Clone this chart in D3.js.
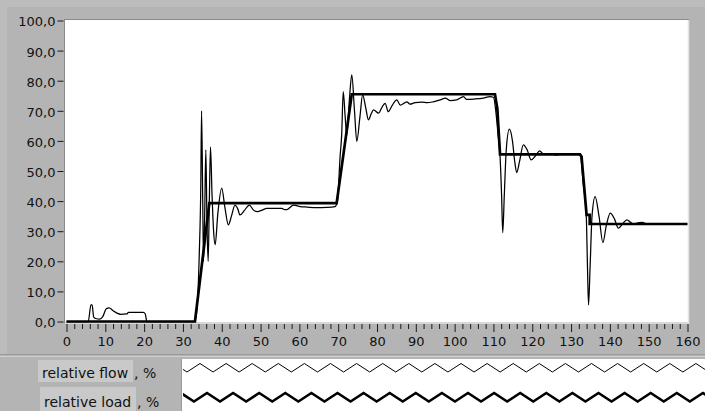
<!DOCTYPE html>
<html>
<head>
<meta charset="utf-8">
<script src="https://cdn.jsdelivr.net/npm/d3@7"></script>
<style>
  html, body { margin: 0; padding: 0; background: #b4b4b4; }
  svg { display: block; }
  text { font-family: "DejaVu Sans", sans-serif; }
</style>
</head>
<body>
<svg id="chart" width="705" height="411"></svg>
<script>
// Time axis (s) and values (%) for the two recorded signals
const flowTime = [0, 5.6, 6.3, 6.6, 7.0, 7.5, 8.6, 9.3, 10.3, 11.0, 12.0, 13.0, 14.0, 15.5, 16.0, 19.8, 20.3, 20.7,
  33.0, 33.6, 34.2, 34.6, 34.8, 35.1, 35.3, 35.6, 35.9, 36.2, 36.5, 36.8, 37.1, 37.5, 37.9, 38.3, 39.0, 40.0, 40.8,
  41.7, 42.5, 43.4, 44.1, 44.7, 45.9, 47.1, 48.2, 49.2, 50.4, 51.6, 53.5, 55.5, 56.2, 56.8, 58.5, 60.2, 62.0, 64.5,
  67.0, 69.2, 69.8, 70.5, 70.9, 71.3, 71.8, 72.2, 72.9, 73.5, 74.2, 74.8, 75.6, 76.3, 77.1, 77.8, 78.5, 79.1, 80.4,
  81.2, 82.1, 82.9, 84.0, 85.1, 86.0, 87.7, 88.5, 89.8, 91.5, 93.0, 94.5, 96.3, 97.6, 98.8, 100.5, 102.3, 103.1,
  105.0, 107.4, 109.1, 110.0, 110.6, 111.2, 111.7, 112.1, 112.4, 112.8, 113.3, 114.1, 114.9, 115.5, 116.0, 116.7,
  117.7, 118.7, 119.7, 120.8, 121.9, 123.0, 124.6, 126.0, 127.5, 132.3, 133.2, 133.9, 134.2, 134.5, 134.9, 135.4,
  136.2, 137.2, 138.2, 139.1, 140.1, 141.2, 142.2, 143.3, 144.4, 145.3, 146.1, 147.2, 148.2, 149.1];
const flowValue = [0, 0, 5.5, 5.5, 1.5, 1.0, 0.8, 1.5, 4.3, 4.5, 3.6, 2.8, 2.4, 2.5, 3.0, 3.0, 2.5, 0,
  0, 4, 22, 45, 70, 40, 20, 35, 57, 32, 20, 40, 58, 42, 30, 25.5, 36, 44.3, 38,
  32.1, 35, 38.7, 37.5, 35.4, 37, 38.7, 37, 36.5, 37, 37.6, 37.6, 37.6, 37.2, 37.2, 38.7, 38.2, 38.0, 37.8,
  37.9, 38.2, 40, 55, 62, 76.4, 68, 62, 74, 81.9, 70, 59.8, 68, 75.3, 71, 67.0, 69, 70.3, 69.2,
  71, 72.5, 69.7, 72, 73.6, 71.9, 73.0, 72.2, 72.7, 72.9, 72.7, 73.0, 73.6, 74.2, 73.4, 73.6, 74.7, 73.8,
  73.9, 74.2, 74.7, 74.5, 70, 62, 55, 42, 29.5, 42, 57, 63.9, 60, 53, 49.5, 53,
  58.7, 57, 53.7, 55, 56.7, 55.5, 55.8, 55.3, 55.6, 55.6, 45, 36.0, 20, 5.5, 18, 35,
  41.5, 35, 26.2, 32, 36.0, 34, 31.0, 32.5, 33.8, 33, 32.3, 32.8, 32.9, 32.6];

const loadTime  = [0, 33.1, 36.8, 69.6, 73.5, 110.4, 111.0, 111.7, 132.3, 132.7, 134.0, 134.8, 134.8, 160];
const loadValue = [0, 0, 39.3, 39.3, 75.5, 75.5, 70.8, 55.5, 55.5, 54.8, 35.4, 35.4, 32.4, 32.4];

const seriesNames = ["relative flow", "relative load"];
const xTicksMajor = d3.range(0, 161, 10);
const xTicksMinor = d3.range(0, 161, 2).filter(v => v % 10 !== 0);
const yTicks = d3.range(0, 101, 10);

const svg = d3.select("#chart");
const W = 705, H = 411;
const plot = { left: 65, right: 688, top: 20, bottom: 322 };

const x = d3.scaleLinear().domain([0, 160]).range([66.5, 687.5]);
const y = d3.scaleLinear().domain([0, 100]).range([321.5, 20.5]);

const fmt = d3.formatLocale({ decimal: ",", thousands: ".", grouping: [3], currency: ["", ""] }).format(".1f");

// panel background with lighter outer rim
svg.append("rect").attr("width", W).attr("height", H).attr("fill", "#b4b4b4");
svg.append("rect").attr("x", 0).attr("y", 0).attr("width", W).attr("height", 7).attr("fill", "#bcbcbc");
svg.append("rect").attr("x", 0).attr("y", 0).attr("width", 7).attr("height", 355).attr("fill", "#bcbcbc");

// plotting area
svg.append("rect")
  .attr("x", plot.left).attr("y", plot.top)
  .attr("width", plot.right - plot.left).attr("height", plot.bottom - plot.top)
  .attr("fill", "#ffffff");
// sunken frame: dark top/left, light bottom/right
svg.append("line").attr("x1", plot.left - 1).attr("x2", plot.right + 1).attr("y1", 19.5).attr("y2", 19.5)
  .attr("stroke", "#8a8a8a").attr("stroke-width", 1);
svg.append("line").attr("x1", 64.5).attr("x2", 64.5).attr("y1", 19).attr("y2", 323)
  .attr("stroke", "#8a8a8a").attr("stroke-width", 1);
svg.append("line").attr("x1", 688.5).attr("x2", 688.5).attr("y1", 20).attr("y2", 323.5)
  .attr("stroke", "#e4e4e4").attr("stroke-width", 1.5);
svg.append("line").attr("x1", 65).attr("x2", 689).attr("y1", 323).attr("y2", 323)
  .attr("stroke", "#e4e4e4").attr("stroke-width", 1.5);

// x axis: major and minor ticks
const xMajor = svg.append("g").attr("transform", "translate(0,324)")
  .call(d3.axisBottom(x).tickValues(xTicksMajor).tickSize(8).tickPadding(5).tickFormat(d3.format("d")));
const xMinor = svg.append("g").attr("transform", "translate(0,324)")
  .call(d3.axisBottom(x).tickValues(xTicksMinor).tickSize(5).tickFormat(""));
[xMajor, xMinor].forEach(g => {
  g.select(".domain").remove();
  g.selectAll(".tick line").attr("stroke", "#1a1a1a").attr("stroke-width", 1);
});
xMajor.selectAll(".tick text")
  .attr("fill", "#111").attr("font-size", 13).attr("font-family", "DejaVu Sans");

// y axis
const yAxis = svg.append("g").attr("transform", "translate(63.5,0)")
  .call(d3.axisLeft(y).tickValues(yTicks).tickSize(6).tickPadding(2).tickFormat(fmt));
yAxis.select(".domain").remove();
yAxis.selectAll(".tick line").attr("stroke", "#1a1a1a");
yAxis.selectAll(".tick text")
  .attr("fill", "#111").attr("font-size", 13).attr("font-family", "DejaVu Sans").attr("dy", "0.42em");

// series
svg.append("clipPath").attr("id", "plotClip")
  .append("rect").attr("x", plot.left).attr("y", plot.top - 2)
  .attr("width", plot.right - plot.left).attr("height", plot.bottom - plot.top + 3);

const flowLine = d3.line().curve(d3.curveMonotoneX).x(d => x(d[0])).y(d => y(d[1]));
const loadLine = d3.line().x(d => x(d[0])).y(d => y(d[1]));
const flowData = flowTime.map((t, i) => [t, flowValue[i]]);
const loadData = loadTime.map((t, i) => [t, loadValue[i]]);

const series = svg.append("g").attr("clip-path", "url(#plotClip)");
series.append("path").datum(flowData).attr("d", flowLine)
  .attr("fill", "none").attr("stroke", "#000").attr("stroke-width", 1.25).attr("stroke-linejoin", "miter");
series.append("path").datum(loadData).attr("d", loadLine)
  .attr("fill", "none").attr("stroke", "#000").attr("stroke-width", 2.7).attr("stroke-linejoin", "miter");

// legend strip
svg.append("line").attr("x1", 0).attr("x2", W).attr("y1", 354.5).attr("y2", 354.5).attr("stroke", "#9a9a9a");
svg.append("line").attr("x1", 0).attr("x2", W).attr("y1", 356.5).attr("y2", 356.5).attr("stroke", "#cfcfcf");
svg.append("rect").attr("x", 182).attr("y", 359).attr("width", W - 182).attr("height", H - 359).attr("fill", "#ffffff");
svg.append("line").attr("x1", 181.5).attr("x2", 181.5).attr("y1", 359).attr("y2", H).attr("stroke", "#9a9a9a");

const legendRows = [
  { name: seriesNames[0], box: [38, 360, 95, 22], textX: 42, baseY: 378, width: 1, top: 363.5, bottom: 372, phase: 200 },
  { name: seriesNames[1], box: [40, 387, 96, 24], textX: 44, baseY: 407, width: 2.6, top: 393, bottom: 401.5, phase: 207 }
];
const period = 26.1;
legendRows.forEach(r => {
  svg.append("rect").attr("x", r.box[0]).attr("y", r.box[1]).attr("width", r.box[2]).attr("height", r.box[3])
    .attr("fill", "#c9c9c9");
  svg.append("text").attr("x", r.textX).attr("y", r.baseY)
    .attr("font-size", 14).attr("fill", "#111").text(r.name);
  svg.append("text").attr("x", r.box[0] + r.box[2] + 1).attr("y", r.baseY)
    .attr("font-size", 14).attr("fill", "#111").text(", %");
  // zigzag sample
  const pts = [];
  let k = Math.floor((183 - r.phase) / period) - 1;
  for (; r.phase + k * period <= W + period; k++) {
    const px = r.phase + k * period;
    pts.push([px, r.top]);
    pts.push([px + period / 2, r.bottom]);
  }
  svg.append("clipPath").attr("id", "lg" + r.baseY)
    .append("rect").attr("x", 183).attr("y", 359).attr("width", W - 183).attr("height", H - 359);
  svg.append("path").attr("clip-path", "url(#lg" + r.baseY + ")")
    .attr("d", d3.line()(pts)).attr("fill", "none").attr("stroke", "#000").attr("stroke-width", r.width);
});
</script>
</body>
</html>
